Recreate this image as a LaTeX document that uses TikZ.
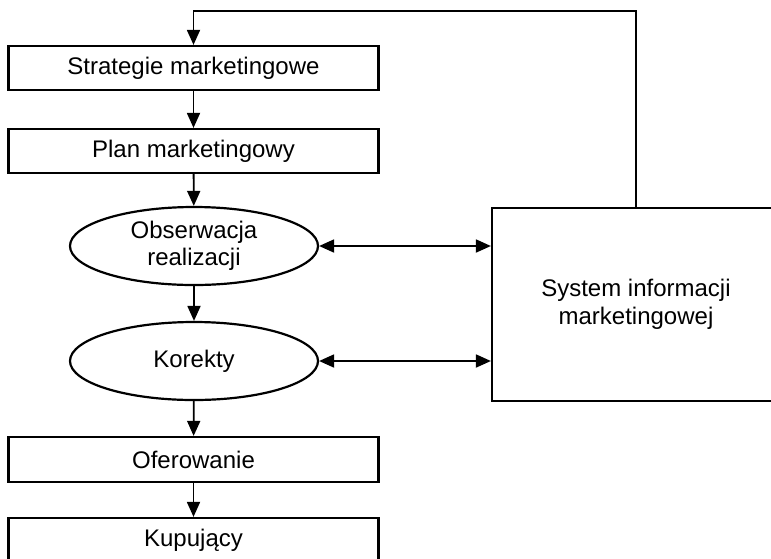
\documentclass[tikz,border=0pt]{standalone}
\usepackage{fontspec}
\setmainfont{Liberation Sans}
\usetikzlibrary{arrows.meta,shapes.geometric}
\begin{document}
\begin{tikzpicture}[x=1pt,y=-1pt,
  every node/.style={font=\fontsize{24}{27.5}\selectfont, align=center, inner sep=0pt},
  box/.style={draw, line width=2.2pt, rectangle, minimum width=370pt, minimum height=44pt},
  oval/.style={draw, line width=2.2pt, ellipse, minimum width=248pt, minimum height=78pt},
  sysbox/.style={draw, line width=2.2pt, rectangle, minimum width=288pt, minimum height=193pt},
  flow/.style={line width=1.8pt, -{Triangle[width=13pt,length=15pt]}},
  both/.style={line width=1.8pt, {Triangle[width=13pt,length=15pt]}-{Triangle[width=13pt,length=15pt]}}]
\useasboundingbox (0,0) rectangle (771,558);
\clip (0,0) rectangle (771,558);

\node[box] (strat) at (193.5,68) {Strategie marketingowe};
\node[box] (plan) at (193.5,151) {Plan marketingowy};
\node[oval] (obs) at (194,246) {Obserwacja\\realizacji};
\node[oval] (kor) at (194,361) {Korekty};
\node[box, minimum height=45pt] (ofer) at (193.5,459.5) {Oferowanie};
\node[box, minimum height=45pt] (kup) at (193.5,540.5) {Kupujący};
\node[sysbox] (sys) at (636,304.5) {System informacji\\marketingowej};

\coordinate (topR) at (636,11);
\coordinate (topL) at (193.5,11);

\draw[flow] (strat) -- (plan);
\draw[flow] (plan) -- (obs);
\draw[flow] (obs) -- (kor);
\draw[flow] (kor) -- (ofer);
\draw[flow] (ofer) -- (kup);
\draw[flow] (sys.north) -- (topR) -- (topL) -- (strat.north);
\draw[both] (obs.east) -- (obs.east -| sys.west);
\draw[both] (kor.east) -- (kor.east -| sys.west);
\end{tikzpicture}
\end{document}
